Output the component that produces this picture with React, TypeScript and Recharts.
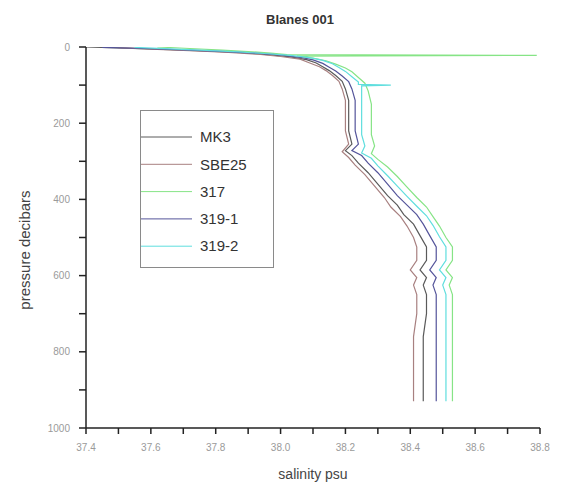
import { LineChart, Line, XAxis, YAxis, Legend } from 'recharts';

// salinity profiles, [pressure dbar, salinity psu]
const mk3: [number, number][] = [
  [0, 37.4], [3, 37.52], [7, 37.66], [11, 37.78], [15, 37.88], [20, 37.96], [26, 38.03], [33, 38.08],
  [42, 38.11], [52, 38.13], [62, 38.15], [75, 38.17], [90, 38.19], [110, 38.2], [140, 38.21], [180, 38.21],
  [220, 38.21], [255, 38.22], [272, 38.2], [285, 38.22], [305, 38.24], [330, 38.27], [360, 38.3], [390, 38.33],
  [415, 38.36], [440, 38.38], [465, 38.41], [495, 38.43], [525, 38.45], [560, 38.45], [585, 38.43], [605, 38.45],
  [625, 38.44], [650, 38.45], [700, 38.45], [760, 38.44], [820, 38.44], [880, 38.44], [930, 38.44],
];
const sbe25: [number, number][] = [
  [2, 37.5], [6, 37.62], [10, 37.74], [14, 37.84], [19, 37.93], [25, 38.0], [32, 38.06], [42, 38.09],
  [52, 38.12], [62, 38.14], [75, 38.16], [90, 38.18], [110, 38.19], [140, 38.2], [180, 38.2], [220, 38.2],
  [255, 38.21], [275, 38.19], [290, 38.21], [310, 38.23], [335, 38.26], [365, 38.29], [395, 38.32], [420, 38.34],
  [445, 38.37], [470, 38.39], [500, 38.41], [525, 38.42], [560, 38.42], [585, 38.4], [605, 38.42], [625, 38.41],
  [650, 38.42], [700, 38.42], [760, 38.41], [820, 38.41], [880, 38.41], [930, 38.41],
];
const s317: [number, number][] = [
  [0, 37.62], [4, 37.72], [8, 37.82], [12, 37.9], [16, 37.97], [20, 38.02], [22, 38.79], [24, 38.05],
  [29, 38.1], [36, 38.14], [45, 38.17], [55, 38.2], [65, 38.22], [80, 38.24], [95, 38.26], [115, 38.27],
  [150, 38.28], [190, 38.28], [230, 38.28], [260, 38.29], [280, 38.28], [295, 38.3], [315, 38.33], [340, 38.36],
  [368, 38.39], [395, 38.42], [420, 38.45], [445, 38.47], [470, 38.49], [500, 38.51], [525, 38.53], [560, 38.53],
  [585, 38.51], [605, 38.53], [625, 38.52], [650, 38.53], [700, 38.53], [760, 38.53], [820, 38.53], [880, 38.53],
  [930, 38.53],
];
const s319a: [number, number][] = [
  [1, 37.45], [4, 37.58], [8, 37.72], [12, 37.83], [16, 37.92], [21, 38.0], [27, 38.06], [34, 38.1],
  [43, 38.13], [53, 38.15], [63, 38.17], [76, 38.19], [91, 38.21], [110, 38.22], [140, 38.23], [180, 38.23],
  [220, 38.23], [255, 38.24], [272, 38.22], [285, 38.25], [305, 38.27], [330, 38.3], [360, 38.33], [390, 38.36],
  [415, 38.39], [440, 38.42], [465, 38.44], [495, 38.46], [525, 38.48], [560, 38.48], [585, 38.46], [605, 38.48],
  [625, 38.47], [650, 38.48], [700, 38.48], [760, 38.48], [820, 38.48], [880, 38.48], [930, 38.48],
];
const s319b: [number, number][] = [
  [1, 37.55], [5, 37.66], [9, 37.77], [13, 37.87], [17, 37.95], [22, 38.03], [28, 38.09], [35, 38.13],
  [44, 38.16], [54, 38.18], [64, 38.2], [78, 38.22], [92, 38.24], [98, 38.24], [100, 38.34], [102, 38.25],
  [120, 38.25], [150, 38.25], [190, 38.25], [230, 38.25], [260, 38.26], [278, 38.25], [292, 38.28], [312, 38.3],
  [338, 38.33], [365, 38.36], [392, 38.39], [418, 38.42], [443, 38.45], [468, 38.47], [498, 38.49], [525, 38.51],
  [560, 38.51], [585, 38.49], [605, 38.51], [625, 38.5], [650, 38.51], [700, 38.51], [760, 38.51], [820, 38.51],
  [880, 38.51], [930, 38.51],
];

const salinityTicks = [37.4, 37.5, 37.6, 37.7, 37.8, 37.9, 38.0, 38.1, 38.2, 38.3, 38.4, 38.5, 38.6, 38.7, 38.8];
const pressureTicks = [0, 100, 200, 300, 400, 500, 600, 700, 800, 900, 1000];

const series = [
  { name: 'MK3', data: mk3, color: '#5a5a5a' },
  { name: 'SBE25', data: sbe25, color: '#a88080' },
  { name: '317', data: s317, color: '#86e486' },
  { name: '319-1', data: s319a, color: '#54549a' },
  { name: '319-2', data: s319b, color: '#5fdede' },
];

const toRows = (d: [number, number][]) => d.map(([p, s]) => ({ p, s }));

const LegendBox = () => (
  <svg width={134} height={158} style={{ display: 'block' }}>
    <rect x={0.5} y={0.5} width={133} height={157} fill="#fff" stroke="#8a8a8a" />
    {series.map((item, i) => (
      <g key={item.name}>
        <line x1={1} x2={52} y1={27 + i * 27.3} y2={27 + i * 27.3} stroke={item.color} strokeWidth={1} />
        <text x={60} y={27 + i * 27.3} dy="0.35em" fontSize={15} fill="#333" fontFamily="Liberation Sans, Arial, sans-serif">
          {item.name}
        </text>
      </g>
    ))}
  </svg>
);

export default function App() {
  return (
    <div style={{ position: 'relative', width: 553, height: 477, fontFamily: 'Liberation Sans, Arial, sans-serif' }}>
      <div style={{ position: 'absolute', left: 242, top: 4, width: 100, textAlign: 'center', fontSize: 13, color: '#333', fontWeight: 600 }}>
        Blanes 001
      </div>
      <div
        style={{
          position: 'absolute', left: 17 - 80, top: 242 - 10, width: 160, height: 20, textAlign: 'center',
          fontSize: 15, color: '#444', transform: 'rotate(-90deg)', lineHeight: '20px',
        }}
      >
        pressure decibars
      </div>
      <LineChart width={553} height={477} layout="vertical" margin={{ top: 39, right: 21, bottom: 0, left: 0 }}>
        <XAxis
          type="number"
          dataKey="s"
          domain={[37.4, 38.8]}
          ticks={salinityTicks}
          allowDataOverflow
          height={57}
          tickSize={6}
          tickMargin={10}
          stroke="#222"
          strokeWidth={1.5}
          tick={{ fontSize: 10, fill: '#9a9a9a' }}
          tickFormatter={(v: number) => (Math.round(v * 10) % 2 === 0 ? v.toFixed(1) : '')}
          label={{ value: 'salinity psu', position: 'insideBottom', offset: 6, fontSize: 14, fill: '#444' }}
        />
        <YAxis
          type="number"
          dataKey="p"
          domain={[0, 1000]}
          ticks={pressureTicks}
          allowDataOverflow
          width={78}
          tickSize={7}
          tickMargin={9}
          stroke="#222"
          strokeWidth={1.5}
          tick={{ fontSize: 10, fill: '#9a9a9a' }}
          tickFormatter={(v: number) => (v % 200 === 0 ? String(v) : '')}
        />
        <Legend
          layout="vertical"
          align="center"
          verticalAlign="middle"
          content={<LegendBox />}
          wrapperStyle={{ left: 132, top: 102, width: 134, height: 158 }}
        />
        {series.map((sr) => (
          <Line
            key={sr.name}
            name={sr.name}
            data={toRows(sr.data)}
            dataKey="s"
            type="linear"
            stroke={sr.color}
            strokeWidth={1.2}
            dot={false}
            isAnimationActive={false}
          />
        ))}
      </LineChart>
    </div>
  );
}
